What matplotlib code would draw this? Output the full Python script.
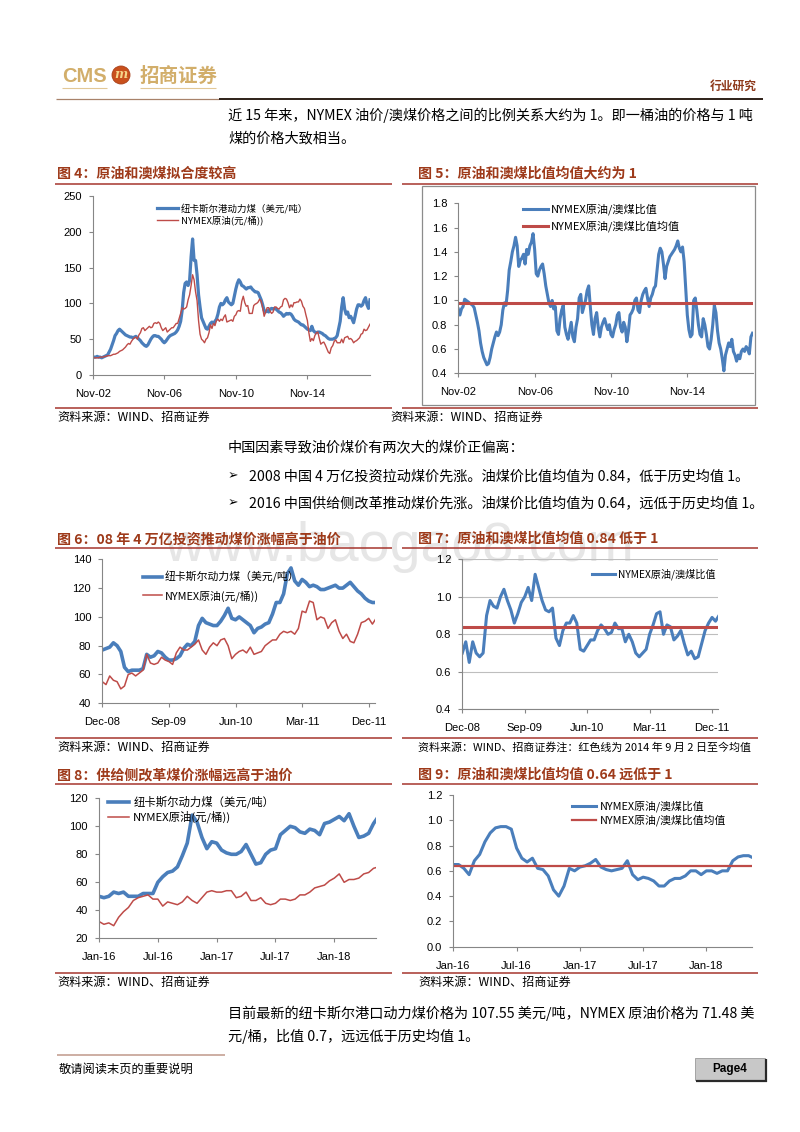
import numpy as np
import matplotlib
matplotlib.use('Agg')
import matplotlib.pyplot as plt
from matplotlib.lines import Line2D
from matplotlib.patches import Rectangle, Ellipse

plt.rcParams['font.family'] = ['Noto Sans CJK SC', 'DejaVu Sans']

# ---------------- data ----------------
# Fig 4 / Fig 5 : monthly, Nov-02 .. May-18
coal_long = [25,25,25,26,25,25,24,25,26,27,28,32,36,42,48,55,58,62,64,62,60,58,56,55,54,53,
             53,52,53,54,52,50,48,45,43,41,40,42,46,50,53,55,55,54,54,52,50,47,45,47,50,53,55,56,
             57,58,60,63,68,75,90,115,128,130,125,132,165,190,160,160,140,112,95,80,75,70,65,64,
             68,72,74,72,75,78,85,95,100,98,100,105,108,102,100,98,100,110,120,128,133,130,125,
             124,122,120,122,122,123,120,118,116,116,115,110,105,98,90,88,90,88,92,93,92,93,92,90,
             88,87,85,82,84,86,85,86,85,82,78,76,75,74,72,70,70,68,66,64,63,62,68,62,60,59,60,60,
             59,58,56,55,53,51,50,50,50,51,52,55,65,75,95,108,92,85,88,80,82,78,73,82,92,98,98,96,
             98,104,108,98,93,105]
oil_long = [23,24,24,24,24,25,25,25,26,26,27,27,27,28,29,29,30,31,33,34,35,37,39,42,44,43,
            47,50,52,53,50,56,59,65,66,62,64,66,68,66,67,72,73,72,74,72,66,62,64,66,60,62,64,66,
            66,69,72,72,79,86,94,92,93,95,105,112,125,140,133,116,104,76,57,50,48,45,50,52,59,70,
            65,72,69,76,78,75,78,76,81,84,74,75,76,77,75,82,84,89,90,89,103,110,101,96,97,86,86,
            86,97,99,100,102,106,103,94,82,88,94,94,89,86,88,95,95,93,92,95,96,105,107,106,101,
            94,98,95,101,101,102,102,106,103,96,93,84,76,59,47,51,48,55,59,60,51,43,45,46,42,37,
            32,30,38,41,47,49,45,45,45,50,45,52,53,54,50,51,49,45,47,48,50,52,57,58,64,62,63,67,71]
ratio_long = [0.93,0.88,0.93,0.95,1.01,1.00,0.99,0.98,0.97,0.96,0.94,0.88,0.82,0.75,0.65,0.58,
              0.53,0.50,0.47,0.48,0.53,0.60,0.65,0.70,0.74,0.71,0.74,0.80,0.92,0.98,0.96,1.08,
              1.25,1.32,1.40,1.45,1.52,1.45,1.28,1.33,1.35,1.38,1.30,1.42,1.38,1.45,1.48,1.55,
              1.42,1.22,1.20,1.25,1.28,1.30,1.22,1.12,1.05,0.98,0.95,1.00,0.93,0.95,0.75,0.72,
              0.85,0.92,0.96,0.78,0.72,0.68,0.75,0.82,0.70,0.66,0.78,0.85,1.02,1.05,0.90,0.95,
              1.00,1.08,1.12,0.95,0.80,0.72,0.85,0.90,0.78,0.70,0.78,0.82,0.85,0.80,0.76,0.80,
              0.72,0.70,0.76,0.80,0.88,0.90,0.78,0.74,0.82,0.78,0.66,0.75,0.88,0.90,0.93,1.00,
              1.02,0.92,0.90,1.00,1.05,1.08,1.10,1.02,0.95,1.02,1.05,1.10,1.12,1.25,1.38,1.43,
              1.40,1.30,1.18,1.28,1.32,1.36,1.38,1.40,1.42,1.45,1.49,1.43,1.40,1.44,1.32,1.10,
              0.88,0.76,0.70,0.72,1.00,1.02,0.92,0.80,0.72,0.70,0.85,0.80,0.72,0.62,0.60,0.68,
              0.80,0.96,0.90,0.75,0.65,0.60,0.52,0.42,0.55,0.60,0.65,0.62,0.68,0.58,0.55,0.50,
              0.55,0.52,0.58,0.60,0.58,0.62,0.60,0.56,0.70,0.73]
ratio_long_mean = 0.975
long_ticks = ['Nov-02', 'Nov-06', 'Nov-10', 'Nov-14']

# Fig 6 / Fig 7 : half-monthly, Dec-08 .. Dec-11
coal_0811 = [77,78,79,82,80,76,65,62,63,63,63,64,74,72,73,76,75,72,70,70,71,73,78,81,80,83,94,
             99,96,95,94,94,97,101,106,99,98,100,98,96,94,89,92,93,95,96,102,110,110,116,130,
             134,125,122,126,124,121,122,121,119,119,120,121,122,120,120,122,124,121,118,116,
             113,111,110,110]
oil_0811 = [55,53,59,56,55,50,52,60,61,59,61,63,74,68,67,68,72,70,69,67,75,79,77,77,79,81,84,
            77,74,79,82,80,84,85,80,71,74,76,77,75,79,74,75,76,80,82,84,84,88,90,89,90,88,92,
            104,103,111,110,98,100,99,92,96,98,90,85,88,83,82,88,96,97,99,95,99]
ratio_0811 = [0.70,0.76,0.65,0.76,0.70,0.68,0.70,0.90,0.98,0.95,0.94,1.00,1.04,0.98,0.93,0.86,
              0.91,0.97,1.00,1.05,0.98,1.12,1.05,0.98,0.93,0.92,0.94,0.78,0.74,0.82,0.86,0.86,
              0.90,0.86,0.72,0.71,0.74,0.77,0.77,0.82,0.85,0.83,0.80,0.81,0.86,0.83,0.83,0.76,
              0.80,0.76,0.70,0.68,0.70,0.72,0.80,0.85,0.91,0.92,0.80,0.85,0.84,0.77,0.79,0.82,
              0.75,0.69,0.71,0.67,0.68,0.75,0.82,0.86,0.89,0.87,0.90]
ratio_0811_mean = 0.84
ticks_0811 = ['Dec-08', 'Sep-09', 'Jun-10', 'Mar-11', 'Dec-11']

# Fig 8 / Fig 9 : half-monthly, Jan-16 .. May-18
coal_1618 = [50,49,50,53,52,53,50,50,50,52,52,52,60,64,67,68,71,79,88,108,103,92,84,89,88,83,
             81,80,80,82,87,80,73,74,80,83,84,94,97,100,99,96,95,98,97,94,102,103,105,107,104,
             109,100,92,93,95,102,107]
oil_1618 = [32,30,31,29,35,39,42,47,49,50,51,48,48,43,46,45,44,46,50,47,45,49,53,54,53,53,54,
            54,49,50,53,47,47,49,45,44,45,48,48,47,48,51,51,53,56,57,58,61,63,66,60,62,62,63,66,
            67,70,71]
ratio_1618 = [0.65,0.65,0.62,0.57,0.68,0.73,0.83,0.90,0.94,0.95,0.95,0.93,0.78,0.70,0.67,0.70,
              0.62,0.61,0.56,0.45,0.40,0.48,0.62,0.60,0.63,0.64,0.66,0.69,0.63,0.61,0.60,0.61,
              0.62,0.68,0.57,0.53,0.55,0.54,0.52,0.48,0.48,0.52,0.54,0.54,0.56,0.60,0.60,0.57,
              0.60,0.60,0.58,0.60,0.60,0.68,0.71,0.72,0.72,0.70]
ratio_1618_mean = 0.64
ticks_1618 = ['Jan-16', 'Jul-16', 'Jan-17', 'Jul-17', 'Jan-18']

lab_coal_a = '纽卡斯尔港动力煤（美元/吨）'
lab_coal_b = '纽卡斯尔动力煤（美元/吨）'
lab_oil = 'NYMEX原油(元/桶))'
lab_ratio = 'NYMEX原油/澳煤比值'
lab_mean = 'NYMEX原油/澳煤比值均值'

BLUE = '#4A7EBB'
RED = '#BE4B48'
RULE = '#A5352E'
TITLE = '#9E3A1A'
AXC = '#868686'

# ---------------- figure ----------------
W, H = 800, 1132
fig = plt.figure(figsize=(8, 11.32), dpi=100)
fig.patch.set_facecolor('white')

def fx(x):
    return x / W

def fy(y):
    return 1 - y / H

def ax_px(l, t, r, b):
    return fig.add_axes([l / W, 1 - b / H, (r - l) / W, (b - t) / H])

def hline(x1, x2, y, color, lw):
    fig.add_artist(Line2D([fx(x1), fx(x2)], [fy(y), fy(y)], transform=fig.transFigure,
                          color=color, lw=lw, solid_capstyle='butt'))

def vline(x, y1, y2, color, lw):
    fig.add_artist(Line2D([fx(x), fx(x)], [fy(y1), fy(y2)], transform=fig.transFigure,
                          color=color, lw=lw, solid_capstyle='butt'))

CJK = ['Noto Sans CJK SC', 'DejaVu Sans']

def ftext(x, y, s, size, color='black', ha='left', va='center', weight='normal', family=None, **kw):
    fig.text(fx(x), fy(y), s, fontsize=size, color=color, ha=ha, va=va,
             fontweight=weight, family=family or CJK, **kw)

def style(ax, xlim, ylim, yticks, yfmt, xticks, xlabels):
    ax.set_xlim(*xlim)
    ax.set_ylim(*ylim)
    for s in ['top', 'right']:
        ax.spines[s].set_visible(False)
    for s in ['left', 'bottom']:
        ax.spines[s].set_color(AXC)
        ax.spines[s].set_linewidth(0.8)
    ax.set_yticks(yticks)
    ax.set_yticklabels([yfmt.format(v) for v in yticks])
    ax.set_xticks(xticks)
    ax.set_xticklabels(xlabels)
    ax.tick_params(axis='both', direction='out', length=3, width=0.8, color=AXC,
                   labelsize=8, labelcolor='black')
    ax.tick_params(axis='y', pad=5)
    ax.tick_params(axis='x', pad=7)
    for lab in ax.get_xticklabels() + ax.get_yticklabels():
        lab.set_family('Liberation Sans')
    ax.patch.set_alpha(0)

def legend(ax, lines, labels, x, y, size, hl, tp, ls):
    ax.legend(lines, labels, loc='center left', bbox_to_anchor=(fx(x), fy(y)),
              bbox_transform=fig.transFigure, frameon=False, borderpad=0,
              handlelength=hl, handletextpad=tp, labelspacing=ls,
              prop={'family': CJK, 'size': size})

# ---------------- header ----------------
ftext(62, 76, 'CMS', 14.5, color='#D2AE6A', weight='bold', family=['Liberation Sans'])
fig.add_artist(Ellipse((fx(121), fy(75)), 18 / W, 18 / H, transform=fig.transFigure,
                       facecolor='#C9501C', edgecolor='#A8401A', lw=0.6))
ftext(121, 75, 'm', 9, color='#F6D58A', ha='center', weight='bold', style='italic',
      family=['DejaVu Serif'])
ftext(140, 76, '招商证券', 14, color='#D2AE6A', weight='bold')
hline(62, 107, 88, '#E2C896', 0.8)
hline(140, 216, 88, '#E2C896', 0.8)
hline(56, 219, 98.5, '#A8826A', 0.9)
hline(219, 763, 98.5, '#2E2018', 1.4)
ftext(757, 86, '行业研究', 8.5, color='#8E3A1C', ha='right', weight='bold')

# body text
BODY = 10.2
ftext(228, 115, '近 15 年来，NYMEX 油价/澳煤价格之间的比例关系大约为 1。即一桶油的价格与 1 吨', BODY)
ftext(228, 138, '煤的价格大致相当。', BODY)
ftext(228, 447, '中国因素导致油价煤价有两次大的煤价正偏离：', BODY)
ftext(228, 476, '➢', 9, family=['DejaVu Sans'])
ftext(249, 476, '2008 中国 4 万亿投资拉动煤价先涨。油煤价比值均值为 0.84，低于历史均值 1。', BODY)
ftext(228, 503, '➢', 9, family=['DejaVu Sans'])
ftext(249, 503, '2016 中国供给侧改革推动煤价先涨。油煤价比值均值为 0.64，远低于历史均值 1。', BODY)
ftext(228, 1013, '目前最新的纽卡斯尔港口动力煤价格为 107.55 美元/吨，NYMEX 原油价格为 71.48 美', BODY)
ftext(228, 1036, '元/桶，比值 0.7，远远低于历史均值 1。', BODY)

# watermark
fig.text(fx(399), fy(547), 'www.baogao8.com', fontsize=40, color='#E6E6E6', ha='center',
         va='center', family='Liberation Sans', zorder=-5)

# titles and rules
titles = [(57, 174, '图 4：原油和澳煤拟合度较高'), (418, 174, '图 5：原油和澳煤比值均值大约为 1'),
          (57, 539, '图 6：08 年 4 万亿投资推动煤价涨幅高于油价'), (418, 539, '图 7：原油和澳煤比值均值 0.84 低于 1'),
          (57, 775, '图 8：供给侧改革煤价涨幅远高于油价'), (418, 775, '图 9：原油和澳煤比值均值 0.64 远低于 1')]
for x, y, s in titles:
    ftext(x, y, s, 10.1, color=TITLE, weight='bold')
for y in [184, 548, 784]:
    hline(55, 392, y, RULE, 1.1)
    hline(402, 758, y, RULE, 1.1)
for y in [407.5, 738, 973]:
    hline(55, 392, y, RULE, 1.1)
    hline(402, 758, y, RULE, 1.1)

src = '资料来源：WIND、招商证券'
SRC = 8.7
ftext(57, 417, src, SRC)
ftext(390, 417, src, SRC)
ftext(57, 747, src, SRC)
ftext(418, 747, src + '注：红色线为 2014 年 9 月 2 日至今均值', 7.9)
ftext(57, 982, src, SRC)
ftext(418, 982, src, SRC)

# chart 5 frame
fig.add_artist(Rectangle((fx(422), fy(405)), 333 / W, 219 / H, transform=fig.transFigure,
                         facecolor='none', edgecolor='#8C8C8C', lw=0.9))

# ---------------- Fig 4 ----------------
ax4 = ax_px(92.7, 196, 370, 375)
l1, = ax4.plot(np.arange(len(coal_long)), coal_long, color=BLUE, lw=2.3)
l2, = ax4.plot(np.arange(len(oil_long)), oil_long, color=RED, lw=1.0)
style(ax4, (0, 186), (0, 250), [0, 50, 100, 150, 200, 250], '{:.0f}',
      [0, 48, 96, 144], long_ticks)
legend(ax4, [l1, l2], [lab_coal_a, lab_oil], 152, 214.5, 6.8, 2.2, 0.35, 0.2)

# ---------------- Fig 5 ----------------
ax5 = ax_px(458.3, 203.3, 753.3, 373.3)
l1, = ax5.plot(np.arange(len(ratio_long)), ratio_long, color=BLUE, lw=2.2)
l2 = ax5.axhline(ratio_long_mean, color=RED, lw=2.2)
style(ax5, (0, 185.5), (0.4, 1.8), [0.4, 0.6, 0.8, 1.0, 1.2, 1.4, 1.6, 1.8], '{:.1f}',
      [0, 48, 96, 144], long_ticks)
legend(ax5, [l1, l2], [lab_ratio, lab_mean], 517, 218, 8, 2.25, 0.3, 0.45)

# ---------------- Fig 6 ----------------
ax6 = ax_px(102.3, 559.3, 375, 703.3)
l1, = ax6.plot(np.arange(len(coal_0811)), coal_0811, color=BLUE, lw=2.6)
l2, = ax6.plot(np.arange(len(oil_0811)), oil_0811, color=RED, lw=1.1)
style(ax6, (0, 73.7), (40, 140), [40, 60, 80, 100, 120, 140], '{:.0f}',
      [0, 18, 36, 54, 72], ticks_0811)
legend(ax6, [l1, l2], [lab_coal_b, lab_oil], 138, 586.5, 7.8, 1.7, 0.3, 0.6)

# ---------------- Fig 7 ----------------
ax7 = ax_px(462.3, 559.3, 718.3, 709.3)
ax7.grid(axis='y', color='#BEBEBE', lw=0.8)
ax7.set_axisbelow(True)
l1, = ax7.plot(np.arange(len(ratio_0811)), ratio_0811, color=BLUE, lw=2.2)
ax7.axhline(ratio_0811_mean, color=RED, lw=2.2)
style(ax7, (0, 73.8), (0.4, 1.2), [0.4, 0.6, 0.8, 1.0, 1.2], '{:.1f}',
      [0, 18, 36, 54, 72], ticks_0811)
legend(ax7, [l1], [lab_ratio], 587, 574, 7.3, 2.3, 0.3, 0.3)

# ---------------- Fig 8 ----------------
ax8 = ax_px(99, 798.3, 376, 938.3)
l1, = ax8.plot(np.arange(len(coal_1618)), coal_1618, color=BLUE, lw=2.6)
l2, = ax8.plot(np.arange(len(oil_1618)), oil_1618, color=RED, lw=1.1)
style(ax8, (0, 56.5), (20, 120), [20, 40, 60, 80, 100, 120], '{:.0f}',
      [0, 12, 24, 36, 48], ticks_1618)
legend(ax8, [l1, l2], [lab_coal_b, lab_oil], 102, 809.5, 8.2, 1.9, 0.35, 0.2)

# ---------------- Fig 9 ----------------
ax9 = ax_px(453.3, 795, 752.3, 946.7)
l1, = ax9.plot(np.arange(len(ratio_1618)), ratio_1618, color=BLUE, lw=2.2)
l2 = ax9.axhline(ratio_1618_mean, color=RED, lw=1.6)
style(ax9, (0, 56.7), (0.0, 1.2), [0.0, 0.2, 0.4, 0.6, 0.8, 1.0, 1.2], '{:.1f}',
      [0, 12, 24, 36, 48], ticks_1618)
legend(ax9, [l1, l2], [lab_ratio, lab_mean], 567, 813.5, 7.8, 2.2, 0.35, 0.25)

# ---------------- footer ----------------
hline(57, 225, 1055, '#C9A89C', 1.3)
ftext(59, 1069, '敬请阅读末页的重要说明', 8.8)
fig.add_artist(Rectangle((fx(695), fy(1080)), 70 / W, 22 / H, transform=fig.transFigure,
                         facecolor='#C8C8C8', edgecolor='#9A9A9A', lw=0.6))
vline(766, 1059, 1081.5, '#2A2A2A', 1.6)
hline(696, 767, 1081, '#2A2A2A', 1.6)
ftext(730, 1069, 'Page4', 8.5, ha='center', weight='bold', family=['Liberation Sans'])

fig.savefig('out.png', dpi=100, facecolor='white')
